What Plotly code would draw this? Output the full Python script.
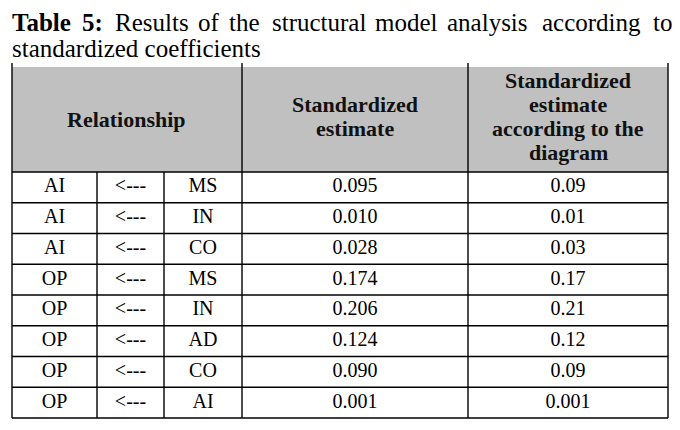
import plotly.graph_objects as go

# ---- data ----
dependent = ["AI", "AI", "AI", "OP", "OP", "OP", "OP", "OP"]
arrow = ["<---"] * 8
independent = ["MS", "IN", "CO", "MS", "IN", "AD", "CO", "AI"]
std_estimate = ["0.095", "0.010", "0.028", "0.174", "0.206", "0.124", "0.090", "0.001"]
std_diagram = ["0.09", "0.01", "0.03", "0.17", "0.21", "0.12", "0.09", "0.001"]
header_rel = ["Relationship"]
header_est = ["Standardized", "estimate"]
header_diag = ["Standardized", "estimate", "according to the", "diagram"]
title_line1 = ["<b>Table</b>", "<b>5:</b>", "Results", "of", "the", "structural",
               "model", "analysis", "according", "to"]
title_line2 = "standardized coefficients"

# ---- layout geometry ----
W, H = 680, 430
OFF = 8  # page body margin
col_edges = [12, 97, 164, 242, 468, 668]
header_top, header_bottom = 67, 172
table_bottom = 418
n_rows = len(dependent)
row_h = (table_bottom - header_bottom) / n_rows
row_centers = [header_bottom + row_h * (i + 0.5) for i in range(n_rows)]
col_centers = [(col_edges[i] + col_edges[i + 1]) / 2 for i in range(5)]
word_x = [10, 80, 113, 196, 227, 270, 373, 445, 540, 651]
header_mid = 117
header_line_h = 24

FONT = "Liberation Serif"
fig = go.Figure()

columns = [dependent, arrow, independent, std_estimate, std_diagram]
for ci, col in enumerate(columns):
    fig.add_trace(go.Scatter(
        x=[col_centers[ci]] * n_rows, y=row_centers, text=col,
        mode="text", textposition="middle center",
        textfont=dict(family=FONT, size=20, color="#000"),
        hoverinfo="skip", showlegend=False))

shapes = []
shapes.append(dict(type="rect", x0=col_edges[0], x1=col_edges[-1], y0=header_top, y1=header_bottom,
                   fillcolor="#c0c0c0", line=dict(width=0), layer="below"))
lw = 1.4
for i, x in enumerate(col_edges):
    y0 = header_bottom if i in (1, 2) else 63
    shapes.append(dict(type="line", x0=x, x1=x, y0=y0, y1=table_bottom, line=dict(color="#000", width=lw)))
for r in range(n_rows + 1):
    y = header_bottom + r * row_h
    shapes.append(dict(type="line", x0=col_edges[0], x1=col_edges[-1], y0=y, y1=y,
                       line=dict(color="#000", width=lw)))

annotations = []
hfont = dict(family=FONT, size=22, color="#111")


def header_block(x, lines, mid):
    n = len(lines)
    for k, t in enumerate(lines):
        y = mid + (k - (n - 1) / 2) * header_line_h
        annotations.append(dict(x=x, y=y, text="<b>" + t + "</b>", showarrow=False,
                                font=hfont, xanchor="center", yanchor="middle"))


header_block(126, header_rel, header_mid + 2)
header_block(col_centers[3], header_est, header_mid - 1)
header_block(col_centers[4], header_diag, header_mid - 1)

tfont = dict(family=FONT, size=25, color="#000")
for wx, w in zip(word_x, title_line1):
    annotations.append(dict(x=wx, y=22, text=w, showarrow=False, font=tfont,
                            xanchor="left", yanchor="middle"))
annotations.append(dict(x=10, y=48, text=title_line2, showarrow=False, font=tfont,
                        xanchor="left", yanchor="middle"))

fig.update_layout(
    width=W - OFF, height=H - OFF, autosize=False,
    margin=dict(l=0, r=0, t=0, b=0),
    paper_bgcolor="white", plot_bgcolor="white",
    xaxis=dict(range=[OFF, W], visible=False, fixedrange=True),
    yaxis=dict(range=[H, OFF], visible=False, fixedrange=True),
    shapes=shapes, annotations=annotations,
)
fig.write_html("out.html")
